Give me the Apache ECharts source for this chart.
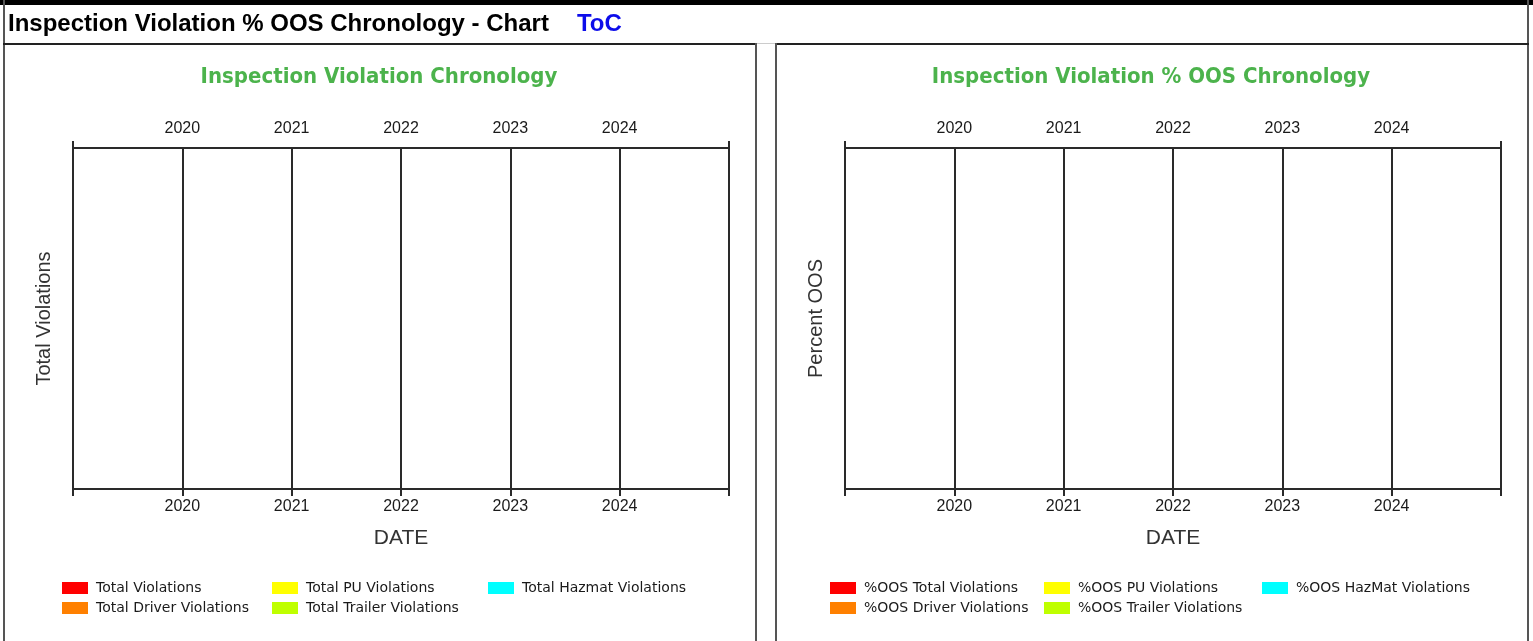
<!DOCTYPE html>
<html>
<head>
<meta charset="utf-8">
<script src="https://cdn.jsdelivr.net/npm/echarts@6/dist/echarts.min.js"></script>
<style>
  html, body { margin: 0; padding: 0; background: #fff; }
  #page { position: relative; width: 1533px; height: 641px; overflow: hidden; }
  .ln { position: absolute; }
  #hdr { position: absolute; left: 5px; top: 5px; height: 38px; line-height: 36px; padding-left: 3px;
         font-family: "Liberation Sans", Arial, sans-serif; font-weight: bold; font-size: 24px; color: #000; white-space: nowrap; }
  #hdr span { color: #0d0dea; margin-left: 28px; }
  #chart { position: absolute; left: 0; top: 0; width: 1533px; height: 641px; }
</style>
</head>
<body>
<div id="page">
  <div id="chart"></div>
  <div class="ln" style="left:0;top:0;width:1533px;height:5px;background:#000"></div>
  <div class="ln" style="left:3px;top:0;width:2px;height:641px;background:#555"></div>
  <div class="ln" style="left:1527px;top:0;width:2px;height:641px;background:#555"></div>
  <div class="ln" style="left:3px;top:43px;width:754px;height:2px;background:#222"></div>
  <div class="ln" style="left:775px;top:43px;width:754px;height:2px;background:#222"></div>
  <div class="ln" style="left:757px;top:43px;width:18px;height:1px;background:#ccc"></div>
  <div class="ln" style="left:755px;top:43px;width:2px;height:598px;background:#555"></div>
  <div class="ln" style="left:775px;top:43px;width:2px;height:598px;background:#555"></div>
  <div id="hdr">Inspection Violation % OOS Chronology - Chart<span>ToC</span></div>
</div>
<script>
// axis years (labels shown 2020..2024, axis runs one year either side)
var years = [2020, 2021, 2022, 2023, 2024];
var yearMin = 2019, yearMax = 2025;

// left chart series (no inspections -> empty)
var leftNames = ['Total Violations', 'Total Driver Violations', 'Total PU Violations', 'Total Trailer Violations', 'Total Hazmat Violations'];
var leftValues = [[], [], [], [], []];
// right chart series
var rightNames = ['%OOS Total Violations', '%OOS Driver Violations', '%OOS PU Violations', '%OOS Trailer Violations', '%OOS HazMat Violations'];
var rightValues = [[], [], [], [], []];
var colors = ['#ff0000', '#ff8000', '#ffff00', '#bfff00', '#00ffff'];

var lineCol = '#2a2a2a';
var byId = function(id) {
	return document.getElementById(id);
};

var xAxisFor = function(gridIndex, pos, withName) {
	var tick = { show: true, length: 7, lineStyle: { color: lineCol, width: 2 } };
	// top axis: only the two end ticks stick out, bottom: all of them
	tick.customValues = pos == 'top' ? [yearMin, yearMax] : [yearMin].concat(years, [yearMax]);
	return {
		type: 'value',
		gridIndex: gridIndex,
		position: pos,
		min: yearMin,
		max: yearMax,
		interval: 1,
		name: withName ? 'DATE' : '',
		nameLocation: 'middle',
		nameGap: 39,
		nameTextStyle: { fontFamily: 'Liberation Sans', fontSize: 21, color: '#333' },
		axisLine: { show: true, onZero: false, lineStyle: { color: lineCol, width: 2 } },
		axisTick: tick,
		splitLine: { show: true, lineStyle: { color: lineCol, width: 2 } },
		axisLabel: {
			show: true,
			customValues: years,
			margin: pos == 'top' ? 11 : 10,
			fontFamily: 'Liberation Sans',
			fontSize: 16,
			color: '#1a1a1a',
			formatter: function(v) {
				return String(v);
			}
		}
	};
};

var yAxisFor = function(gridIndex, name) {
	return {
		type: 'value',
		gridIndex: gridIndex,
		min: 0,
		max: 1,
		name: name,
		nameLocation: 'middle',
		nameGap: 19,
		nameTextStyle: { fontFamily: 'Liberation Sans', fontSize: 20, color: '#333' },
		axisLine: { show: false },
		axisTick: { show: false },
		axisLabel: { show: false },
		splitLine: { show: false }
	};
};

var legendCol = function(x, names) {
	return {
		orient: 'vertical',
		left: x,
		top: 581,
		padding: 0,
		itemWidth: 26,
		itemHeight: 12,
		itemGap: 6,
		icon: 'rect',
		selectedMode: false,
		data: names,
		textStyle: { fontFamily: 'DejaVu Sans', fontSize: 14, color: '#1a1a1a', padding: [0, 0, 0, 3] }
	};
};

var series = [];
leftNames.forEach(function(n, i) {
	series.push({ name: n, type: 'bar', xAxisIndex: 0, yAxisIndex: 0, data: leftValues[i], itemStyle: { color: colors[i] } });
});
rightNames.forEach(function(n, i) {
	series.push({ name: n, type: 'bar', xAxisIndex: 2, yAxisIndex: 1, data: rightValues[i], itemStyle: { color: colors[i] } });
});

var titleStyle = { fontFamily: 'DejaVu Sans Condensed', fontWeight: 'bold', fontSize: 22, color: '#4cb34c' };

var option = {
	animation: false,
	title: [
		{ text: 'Inspection Violation Chronology', left: 374, top: 61, textAlign: 'center', textStyle: titleStyle },
		{ text: 'Inspection Violation % OOS Chronology', left: 1146, top: 61, textAlign: 'center', textStyle: titleStyle }
	],
	grid: [
		{ left: 73, top: 148, width: 656, height: 341 },
		{ left: 845, top: 148, width: 656, height: 341 }
	],
	xAxis: [
		xAxisFor(0, 'bottom', true),
		xAxisFor(0, 'top', false),
		xAxisFor(1, 'bottom', true),
		xAxisFor(1, 'top', false)
	],
	yAxis: [
		yAxisFor(0, 'Total Violations'),
		yAxisFor(1, 'Percent OOS')
	],
	legend: [
		legendCol(62, [leftNames[0], leftNames[1]]),
		legendCol(272, [leftNames[2], leftNames[3]]),
		legendCol(488, [leftNames[4]]),
		legendCol(830, [rightNames[0], rightNames[1]]),
		legendCol(1044, [rightNames[2], rightNames[3]]),
		legendCol(1262, [rightNames[4]])
	],
	series: series
};

var chart = echarts.init(byId('chart'));
chart.setOption(option);
</script>
</body>
</html>
